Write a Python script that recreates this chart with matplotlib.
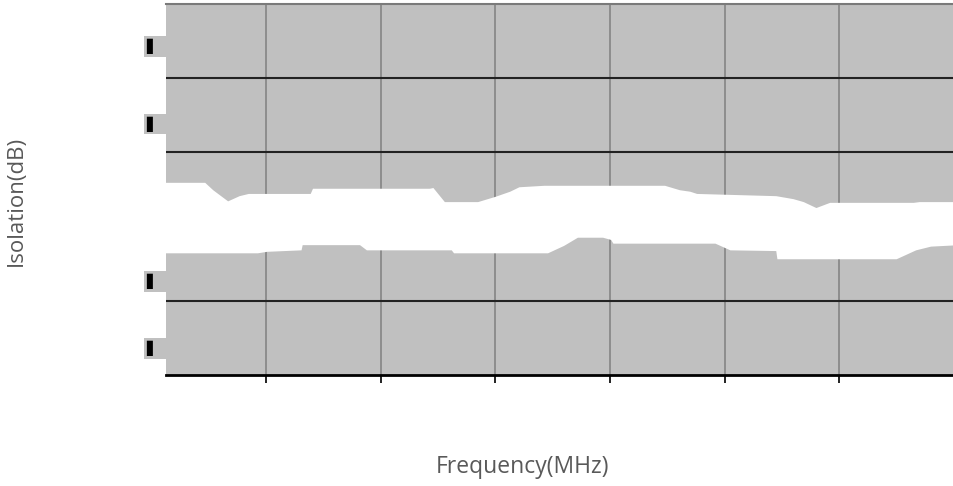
import numpy as np
import matplotlib.pyplot as plt

# upper edge of the masked band (frequency grid units, dB)
upper_x = [0.10, 0.47, 0.54, 0.67, 0.77, 0.85, 1.39, 1.41, 2.43, 2.46, 2.56, 2.85,
           3.00, 3.13, 3.21, 3.43, 4.48, 4.61, 4.70, 4.76, 5.45, 5.60, 5.69, 5.80,
           5.92, 6.65, 6.70, 7.05]
upper_y = [-24.1, -24.1, -25.1, -26.6, -25.9, -25.6, -25.6, -24.9, -24.9, -24.8, -26.7, -26.7,
           -26.0, -25.3, -24.7, -24.5, -24.5, -25.1, -25.3, -25.6, -25.9, -26.3, -26.7, -27.5,
           -26.8, -26.8, -26.7, -26.7]

# lower edge of the masked band
lower_x = [0.10, 0.93, 1.01, 1.31, 1.32, 1.82, 1.88, 2.62, 2.64, 3.46, 3.60, 3.72,
           3.94, 4.01, 4.03, 4.92, 5.05, 5.45, 5.46, 6.50, 6.67, 6.80, 7.05]
lower_y = [-33.6, -33.6, -33.4, -33.2, -32.5, -32.5, -33.2, -33.2, -33.6, -33.6, -32.6, -31.5,
           -31.5, -31.8, -32.3, -32.3, -33.2, -33.3, -34.4, -34.4, -33.2, -32.7, -32.5]

freq_ticks = [1, 2, 3, 4, 5, 6, 7]
grid_levels = [-40, -30, -20, -10]
mark_levels = [-5.5, -15.9, -37.1, -46.2]

fig = plt.figure(figsize=(9.54, 4.86), dpi=100)
ax = fig.add_axes([0.174, 0.2284, 0.826, 0.7634])
ax.set_facecolor('#c0c0c0')

ax.set_xlim(0.128, 7.0)
ax.set_ylim(-50, 0)

# band
bx = np.concatenate([upper_x, lower_x[::-1]])
by = np.concatenate([upper_y, lower_y[::-1]])
ax.fill(bx, by, color='white', lw=0, zorder=3)

ax.set_axisbelow(True)
ax.set_xticks(freq_ticks)
ax.set_xticklabels([])
ax.xaxis.grid(True, color='#808080', lw=1.1)
ax.tick_params(axis='x', direction='out', length=6, width=1.4, color='#222222')

ax.set_yticks(grid_levels)
ax.set_yticklabels([])
ax.yaxis.grid(True, which='major', color='#222222', lw=1.5)
ax.set_yticks(mark_levels, minor=True)
ax.set_yticklabels(['▌\u2002'] * len(mark_levels), minor=True)
ax.tick_params(axis='y', which='both', length=0)
ax.tick_params(axis='y', which='minor', pad=0, labelsize=11, labelcolor='black')
for lbl in ax.get_yticklabels(minor=True):
    lbl.set_bbox(dict(facecolor='#c0c0c0', edgecolor='none', pad=2))

for s in ['left', 'right']:
    ax.spines[s].set_visible(False)
ax.spines['top'].set_color('#7a7a7a')
ax.spines['top'].set_linewidth(1.5)
ax.spines['bottom'].set_color('black')
ax.spines['bottom'].set_linewidth(2.0)

ax.set_xlabel('Frequency(MHz)', fontsize=16.5, color='#595959', family='Open Sans')
ax.xaxis.set_label_coords(0.452, -0.215)
ax.set_ylabel('Isolation(dB)', fontsize=16, color='#595959', family='Open Sans')
ax.yaxis.set_label_coords(-0.176, 0.469)

fig.savefig('out.png', dpi=100)
